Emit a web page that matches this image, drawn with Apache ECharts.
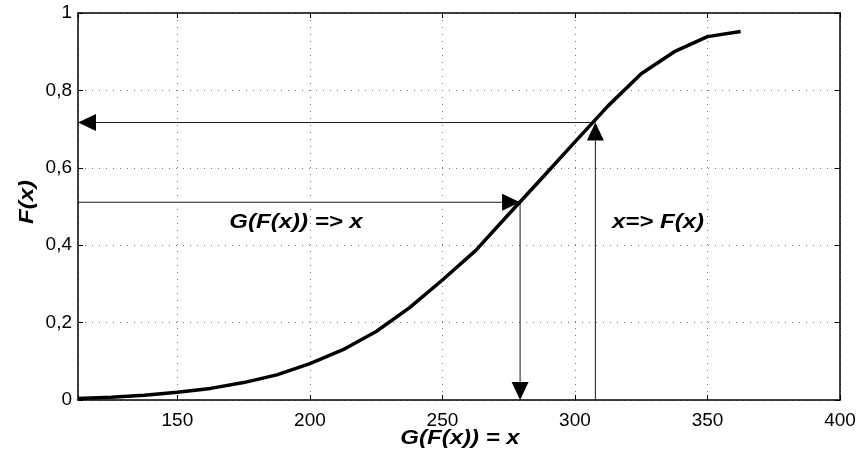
<!DOCTYPE html>
<html>
<head>
<meta charset="utf-8">
<script src="https://cdn.jsdelivr.net/npm/echarts@6/dist/echarts.min.js"></script>
<style>html,body{margin:0;padding:0;background:#fff}#c{width:860px;height:457px}</style>
</head>
<body>
<div id="c"></div>
<script>
// Data
const xValues = [112.5,125,137.5,150,162.5,175,187.5,200,212.5,225,237.5,250,262.5,275,287.5,300,312.5,325,337.5,350,362.5];
const fValues = [0.004,0.007,0.012,0.02,0.03,0.045,0.065,0.094,0.13,0.177,0.238,0.31,0.386,0.48,0.573,0.667,0.76,0.843,0.90,0.939,0.952];
const xMin = 112.5, xMax = 400;
const yMin = 0, yMax = 1, yStep = 0.2;
// Arrow construction points: x => F(x) and G(F(x)) => x
const pointA = [307.7, 0.717];
const pointB = [279.3, 0.511];
const xAxisName = 'G(F(x)) = x';
const yAxisName = 'F(x)';
const labelGx = 'G(F(x)) => x';
const labelFx = 'x=> F(x)';

// Arrow segments [fromX, fromY, toX, toY] (head at "to")
const arrows = [
  [pointA[0], pointA[1], xMin, pointA[1]],
  [pointA[0], yMin, pointA[0], pointA[1]],
  [xMin, pointB[1], pointB[0], pointB[1]],
  [pointB[0], pointB[1], pointB[0], yMin]
];

const chart = echarts.init(document.getElementById('c'), null, {renderer: 'canvas'});
const FONT = '"Liberation Sans", Arial, Helvetica, sans-serif';
const dotted = {color: '#777', width: 1, type: [1, 6]};
const boxLine = {show: true, onZero: false, lineStyle: {color: '#000', width: 1.5}};

function renderArrow(params, api) {
  const p1 = api.coord([api.value(0), api.value(1)]);
  const p2 = api.coord([api.value(2), api.value(3)]);
  const dx = p2[0] - p1[0], dy = p2[1] - p1[1];
  const len = Math.sqrt(dx * dx + dy * dy) || 1;
  const ux = dx / len, uy = dy / len;
  const L = 18, W = 8.5;
  const bx = p2[0] - ux * L, by = p2[1] - uy * L;
  const nx = -uy, ny = ux;
  return {
    type: 'group',
    children: [
      {type: 'line', shape: {x1: p1[0], y1: p1[1], x2: bx, y2: by},
       style: {stroke: '#1a1a1a', lineWidth: 1}},
      {type: 'polygon', shape: {points: [[p2[0], p2[1]], [bx + nx * W, by + ny * W], [bx - nx * W, by - ny * W]]},
       style: {fill: '#000'}}
    ]
  };
}

const option = {
  animation: false,
  backgroundColor: '#fff',
  grid: {left: 78, right: 20, top: 13, bottom: 57, containLabel: false},
  xAxis: [{
    type: 'value', min: xMin, max: xMax, position: 'bottom',
    axisLine: boxLine,
    axisTick: {show: true, inside: true, length: 5, lineStyle: {color: '#000'}},
    axisLabel: {
      color: '#000', fontSize: 19, fontFamily: FONT, margin: 11,
      formatter: v => (Math.abs(v % 50) < 1e-6 ? String(v) : '')
    },
    splitLine: {show: true, lineStyle: dotted}
  }, {
    type: 'value', min: xMin, max: xMax, position: 'top',
    axisLine: boxLine,
    axisTick: {show: true, inside: true, length: 5, lineStyle: {color: '#000'}},
    axisLabel: {show: false},
    splitLine: {show: false}
  }],
  yAxis: [{
    type: 'value', min: yMin, max: yMax, interval: yStep, position: 'left',
    axisLine: boxLine,
    axisTick: {show: true, inside: true, length: 5, lineStyle: {color: '#000'}},
    axisLabel: {
      color: '#000', fontSize: 19, fontFamily: FONT, margin: 6,
      formatter: v => (v === 0 ? '0' : (Math.abs(v - 1) < 1e-9 ? '1' : v.toFixed(1).replace('.', ',')))
    },
    splitLine: {show: true, lineStyle: dotted}
  }, {
    type: 'value', min: yMin, max: yMax, interval: yStep, position: 'right',
    axisLine: boxLine,
    axisTick: {show: true, inside: true, length: 5, lineStyle: {color: '#000'}},
    axisLabel: {show: false},
    splitLine: {show: false}
  }],
  series: [{
    type: 'custom',
    xAxisIndex: 0, yAxisIndex: 0,
    renderItem: renderArrow,
    data: arrows,
    encode: {x: [0, 2], y: [1, 3]},
    clip: false,
    silent: true,
    z: 2
  }, {
    type: 'line',
    xAxisIndex: 0, yAxisIndex: 0,
    data: xValues.map((x, i) => [x, fValues[i]]),
    showSymbol: false,
    symbol: 'none',
    lineStyle: {color: '#000', width: 3.5},
    silent: true,
    z: 3
  }],
  graphic: [
    {type: 'text', x: 296, y: 222, scaleX: 1.2,
     style: {text: labelGx, font: 'italic bold 20px ' + FONT, fill: '#000', textAlign: 'center', textVerticalAlign: 'middle'}},
    {type: 'text', x: 658, y: 222, scaleX: 1.2,
     style: {text: labelFx, font: 'italic bold 20px ' + FONT, fill: '#000', textAlign: 'center', textVerticalAlign: 'middle'}},
    {type: 'text', x: 460, y: 438, scaleX: 1.2,
     style: {text: xAxisName, font: 'italic bold 20px ' + FONT, fill: '#000', textAlign: 'center', textVerticalAlign: 'middle'}},
    {type: 'text', x: 27, y: 202, rotation: Math.PI / 2, scaleX: 1.2,
     style: {text: yAxisName, font: 'italic bold 20px ' + FONT, fill: '#000', textAlign: 'center', textVerticalAlign: 'middle'}}
  ]
};
chart.setOption(option);
</script>
</body>
</html>
